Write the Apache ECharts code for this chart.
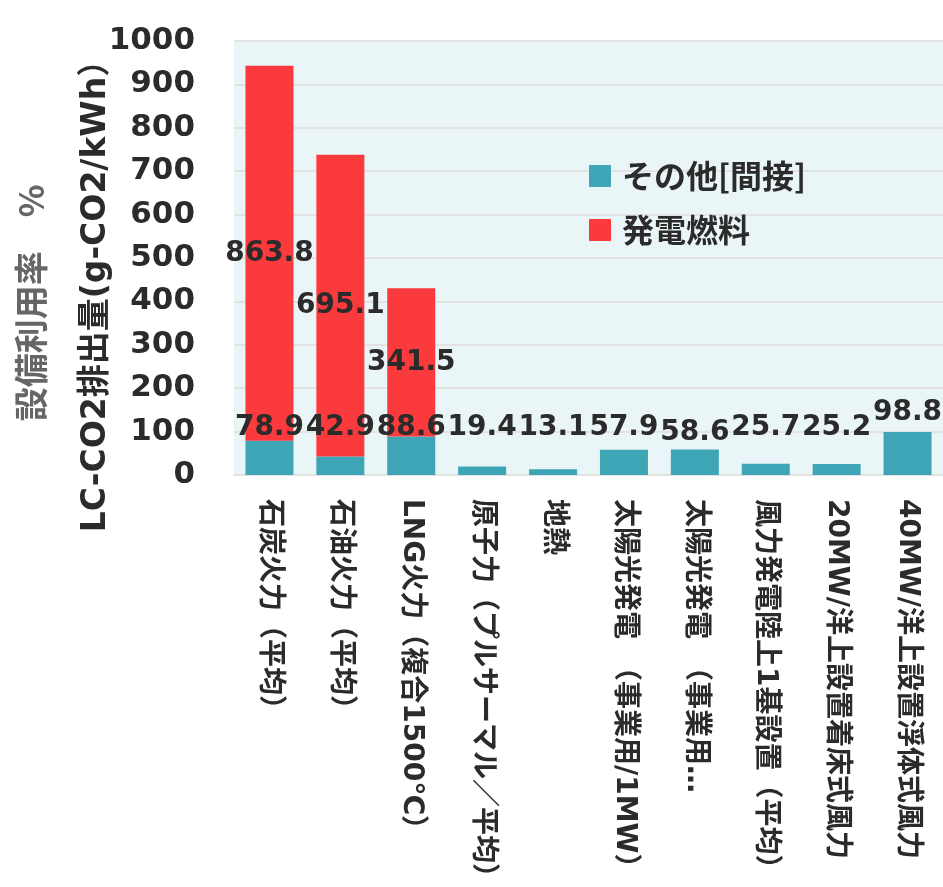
<!DOCTYPE html>
<html>
<head>
<meta charset="utf-8">
<script src="https://cdn.jsdelivr.net/npm/echarts@6/dist/echarts.min.js"></script>
<style>
  html, body { margin: 0; padding: 0; background: #ffffff; }
  #chart { width: 943px; height: 887px; }
</style>
</head>
<body>
<div id="chart"></div>
<script>
// Life-cycle CO2 emissions by generation type (g-CO2/kWh)
const categories = [
  '石炭火力（平均）',
  '石油火力（平均）',
  'LNG火力（複合1500℃）',
  '原子力（プルサーマル／平均）',
  '地熱',
  '太陽光発電　（事業用/1MW）',
  '太陽光発電　（事業用…',
  '風力発電陸上1基設置（平均）',
  '20MW/洋上設置着床式風力',
  '40MW/洋上設置浮体式風力'
];
const indirectValues = [78.9, 42.9, 88.6, 19.4, 13.1, 57.9, 58.6, 25.7, 25.2, 98.8];
const fuelValues = [863.8, 695.1, 341.5, null, null, null, null, null, null, null];
const seriesNames = ['その他[間接]', '発電燃料'];
const yTicks = { min: 0, max: 1000, interval: 100 };
const yAxisTitle = 'LC-CO2排出量(g-CO2/kWh）';
const secondTitle = '設備利用率　%';

const TEAL = '#3DA5B6';
const RED = '#FA3A3C';
const TEXT = '#2b2b2b';
const LATIN_FONT = '"DejaVu Sans", "Noto Sans CJK JP", sans-serif';
const CJK_FONT = '"Noto Sans CJK JP", "DejaVu Sans", sans-serif';

// per-bar label tweaks for the indirect series
const indirectData = indirectValues.map((v, i) => {
  const item = { value: v };
  if (i === 9) item.label = { position: 'top', distance: 5 };
  if (i === 6) item.label = { distance: 28 };
  return item;
});

const chart = echarts.init(document.getElementById('chart'), null, { renderer: 'canvas' });

chart.setOption({
  backgroundColor: '#ffffff',
  animation: false,
  grid: {
    left: 234, right: 0, top: 41, bottom: 412,
    containLabel: false,
    outerBoundsMode: 'none',
    show: true, backgroundColor: '#EAF5F7', borderWidth: 0
  },
  legend: {
    orient: 'vertical',
    left: 584, top: 155,
    itemWidth: 22, itemHeight: 22, itemGap: 22,
    icon: 'rect',
    data: seriesNames,
    textStyle: {
      fontFamily: CJK_FONT, fontSize: 32, fontWeight: 'bold', color: TEXT,
      padding: [0, 0, 0, 6]
    }
  },
  xAxis: {
    type: 'category',
    data: categories,
    axisLine: { show: true, lineStyle: { color: '#E2E2E2', width: 2 } },
    axisTick: { show: false },
    axisLabel: {
      interval: 0, rotate: -90, margin: 24,
      fontFamily: LATIN_FONT, fontSize: 28, fontWeight: 'bold', color: TEXT
    }
  },
  yAxis: {
    type: 'value',
    min: yTicks.min, max: yTicks.max, interval: yTicks.interval,
    axisLine: { show: false },
    axisTick: { show: false },
    splitLine: { show: true, lineStyle: { color: '#E2E2E2', width: 2 } },
    axisLabel: {
      margin: 39,
      formatter: (v) => String(v),
      fontFamily: LATIN_FONT, fontSize: 31, fontWeight: 'bold', color: TEXT
    }
  },
  graphic: [
    {
      type: 'text',
      x: 96, y: 288, rotation: Math.PI / 2,
      style: {
        text: yAxisTitle,
        fontFamily: LATIN_FONT, fontSize: 33, fontWeight: 'bold', fill: TEXT,
        align: 'center', verticalAlign: 'middle'
      }
    },
    {
      type: 'text',
      x: 31, y: 303, rotation: Math.PI / 2,
      style: {
        text: secondTitle,
        fontFamily: CJK_FONT, fontSize: 34, fontWeight: 'bold', fill: '#666666',
        align: 'center', verticalAlign: 'middle'
      }
    }
  ],
  series: [
    {
      name: seriesNames[0],
      type: 'bar',
      stack: 'total',
      barWidth: 48,
      itemStyle: { color: TEAL },
      label: {
        show: true, position: 'insideBottom', distance: 33,
        fontFamily: LATIN_FONT, fontSize: 28, fontWeight: 'bold', color: TEXT,
        lineHeight: 28
      },
      data: indirectData
    },
    {
      name: seriesNames[1],
      type: 'bar',
      stack: 'total',
      barWidth: 48,
      itemStyle: { color: RED },
      label: {
        show: true, position: 'inside',
        fontFamily: LATIN_FONT, fontSize: 28, fontWeight: 'bold', color: TEXT
      },
      data: fuelValues
    }
  ]
});
</script>
</body>
</html>
